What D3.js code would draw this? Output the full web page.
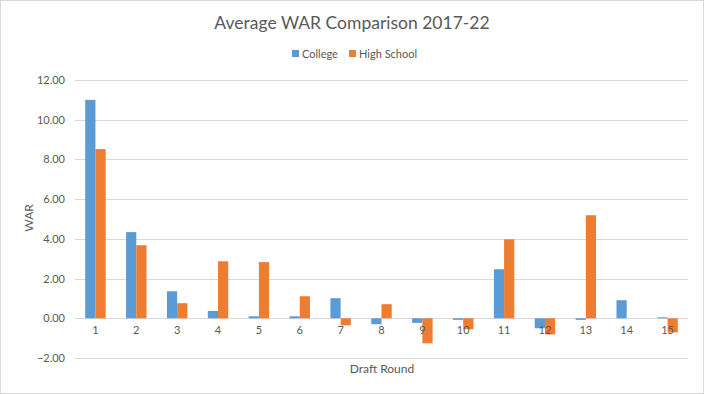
<!DOCTYPE html>
<html>
<head>
<meta charset="utf-8">
<script src="https://cdn.jsdelivr.net/npm/d3@7"></script>
<style>
  body { margin: 0; background: #fff; }
  text { font-family: Lato, "Open Sans", sans-serif; fill: #595959; }
</style>
</head>
<body>
<div id="chart"></div>
<script>
// chart data
var rounds = ["1", "2", "3", "4", "5", "6", "7", "8", "9", "10", "11", "12", "13", "14", "15"];
var college = [11.00, 4.34, 1.36, 0.37, 0.10, 0.10, 1.01, -0.30, -0.23, -0.08, 2.47, -0.50, -0.08, 0.91, 0.05];
var highSchool = [8.52, 3.68, 0.76, 2.87, 2.83, 1.11, -0.35, 0.71, -1.26, -0.55, 3.98, -0.81, 5.19, 0.00, -0.71];
var seriesNames = ["College", "High School"];
var yTicks = [-2, 0, 2, 4, 6, 8, 10, 12];

var svgWidth = 704, svgHeight = 394;
var colors = ["#5b9bd5", "#ed7d31"];

var svg = d3.select("#chart").append("svg")
  .attr("width", svgWidth)
  .attr("height", svgHeight);

// outer border
svg.append("rect")
  .attr("x", 0.5).attr("y", 0.5)
  .attr("width", svgWidth - 1).attr("height", svgHeight - 1)
  .attr("fill", "#fff")
  .attr("stroke", "#d9d9d9");

var plot = { left: 75, right: 688, top: 80, bottom: 358 };

var xScale = d3.scaleBand()
  .domain(rounds)
  .range([plot.left, plot.right]);

var subScale = d3.scaleBand()
  .domain([0, 1])
  .range([xScale.bandwidth() * 0.25, xScale.bandwidth() * 0.75]);

var yScale = d3.scaleLinear()
  .domain([-2, 12])
  .range([plot.bottom, plot.top]);

// gridlines
svg.append("g")
  .selectAll("line")
  .data(yTicks)
  .enter()
  .append("line")
  .attr("x1", plot.left)
  .attr("x2", plot.right)
  .attr("y1", d => Math.round(yScale(d)) + 0.5)
  .attr("y2", d => Math.round(yScale(d)) + 0.5)
  .attr("stroke", "#d9d9d9");

// y axis labels
var leftAxis = d3.axisLeft(yScale)
  .tickValues(yTicks)
  .tickFormat(d3.format(".2f"))
  .tickSize(0)
  .tickPadding(10);
var yAxis = svg.append("g")
  .attr("transform", `translate(${plot.left}, 0)`)
  .call(leftAxis);
yAxis.select(".domain").remove();
yAxis.selectAll("text")
  .attr("font-size", "11px")
  .attr("fill", "#595959");

// bars
var groups = svg.append("g")
  .selectAll("g")
  .data(rounds)
  .enter()
  .append("g")
  .attr("transform", d => `translate(${xScale(d)}, 0)`);

groups.selectAll("rect")
  .data((d, i) => [college[i], highSchool[i]])
  .enter()
  .append("rect")
  .attr("x", (d, j) => subScale(j))
  .attr("width", subScale.bandwidth())
  .attr("y", d => yScale(Math.max(0, d)))
  .attr("height", d => Math.abs(yScale(d) - yScale(0)))
  .attr("fill", (d, j) => colors[j]);

// x category labels
var bottomAxis = d3.axisBottom(xScale).tickSize(0).tickPadding(8);
var xAxis = svg.append("g")
  .attr("transform", `translate(0, ${yScale(0)})`)
  .call(bottomAxis);
xAxis.select(".domain").remove();
xAxis.selectAll("text")
  .attr("font-size", "11px")
  .attr("fill", "#595959");

// title
svg.append("text")
  .attr("x", 352)
  .attr("y", 29)
  .attr("text-anchor", "middle")
  .attr("font-size", "17.5px")
  .text("Average WAR Comparison 2017-22");

// legend
var legendX = [292, 349];
var legend = svg.append("g")
  .selectAll("g")
  .data(seriesNames)
  .enter()
  .append("g")
  .attr("transform", (d, i) => `translate(${legendX[i]}, 50)`);
legend.append("rect")
  .attr("width", 7).attr("height", 7)
  .attr("fill", (d, i) => colors[i]);
legend.append("text")
  .attr("x", 10)
  .attr("y", 7.5)
  .attr("font-size", "11px")
  .text(d => d);

// axis titles
svg.append("text")
  .attr("transform", "translate(33, 218) rotate(-90)")
  .attr("text-anchor", "middle")
  .attr("font-size", "12px")
  .text("WAR");

svg.append("text")
  .attr("x", 382)
  .attr("y", 373)
  .attr("text-anchor", "middle")
  .attr("font-size", "12px")
  .text("Draft Round");
</script>
</body>
</html>
